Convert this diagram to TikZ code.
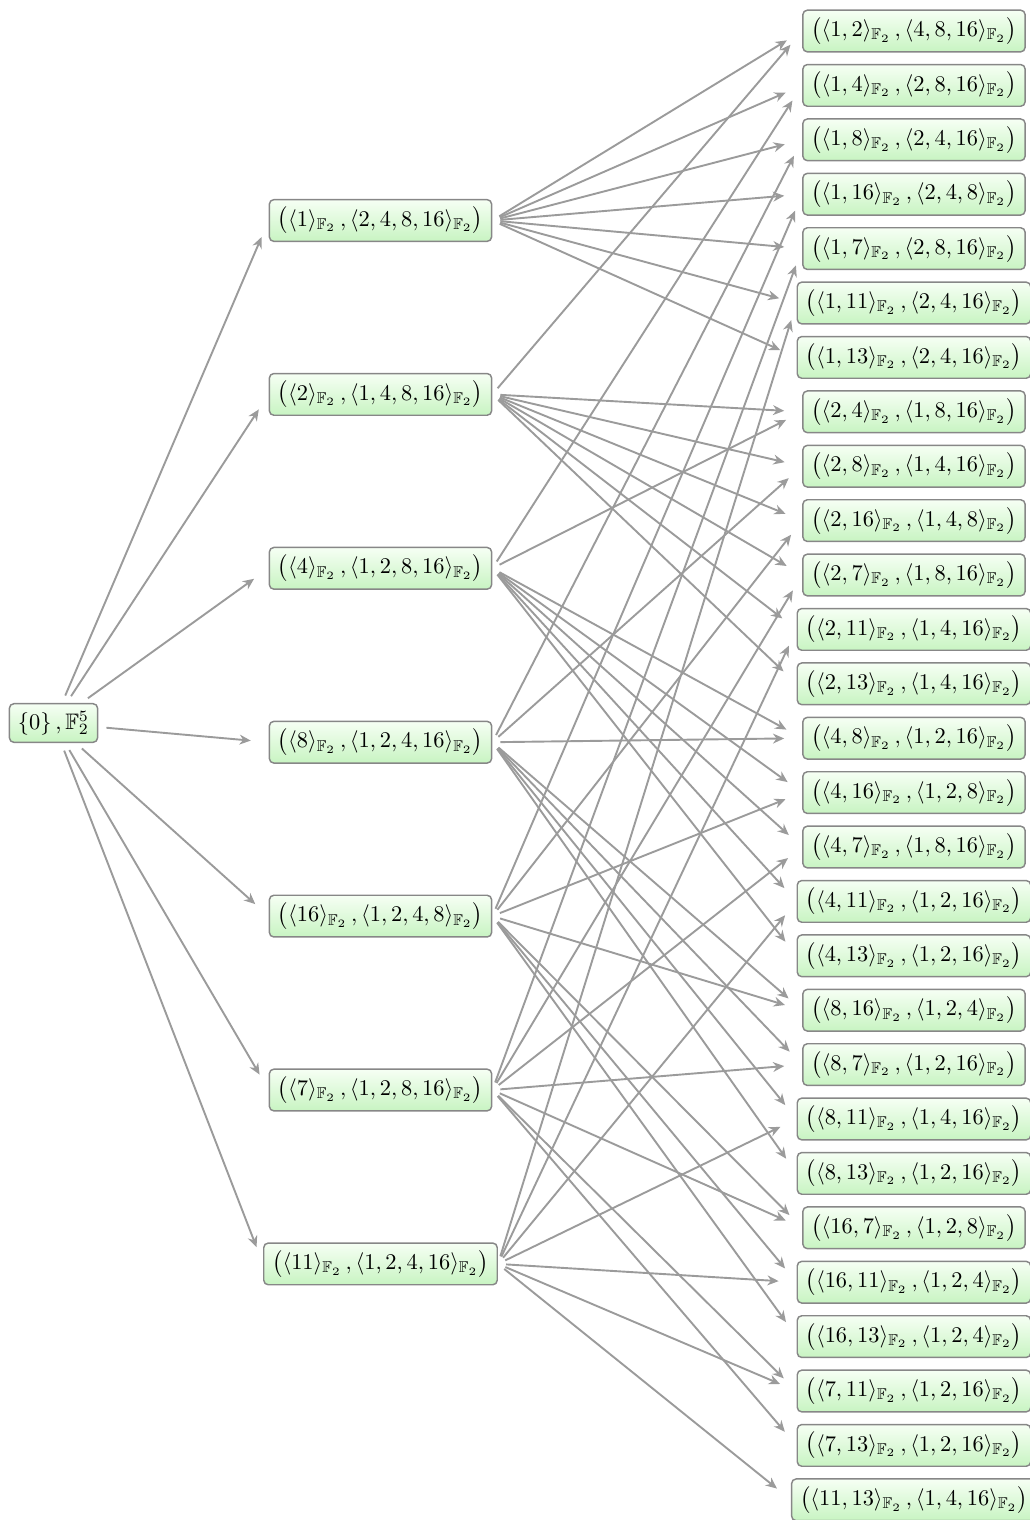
\documentclass[tikz,border=0pt]{standalone}
\usepackage{amssymb}
\usetikzlibrary{arrows.meta}

\definecolor{edgegray}{RGB}{155,155,155}
\definecolor{boxline}{RGB}{135,135,135}
\definecolor{boxtop}{RGB}{246,255,244}
\definecolor{boxbottom}{RGB}{200,244,194}

\newcommand{\gen}[1]{\langle #1\rangle_{\mathbb{F}_2}}
\newcommand{\flagpair}[2]{$\bigl(\gen{#1}\,,\gen{#2}\bigr)$}

\begin{document}
\begin{tikzpicture}[x=0.446pt,y=-0.446pt,
  space/.style={draw=boxline, line width=0.65pt, rounded corners=2pt,
    top color=boxtop, bottom color=boxbottom, inner xsep=3.8pt, inner ysep=3.3pt},
  link/.style={draw=edgegray, line width=0.85pt,
    -{Stealth[length=5pt,width=4.4pt]}, shorten <=3.6pt, shorten >=8pt}]

\useasboundingbox (0,0) rectangle (1030,1520);

% trivial subspace and whole space
\node[space] (root) at (53.5,723) {$\{0\}\,,\mathbb{F}_2^5$};

% one-dimensional level
\foreach \a/\rest [count=\k from 0] in
  {1/{2,4,8,16}, 2/{1,4,8,16}, 4/{1,2,8,16}, 8/{1,2,4,16},
   16/{1,2,4,8}, 7/{1,2,8,16}, 11/{1,2,4,16}}
  \node[space] (m\a) at (380.5, 220.5+173.9*\k) {\flagpair{\a}{\rest}};

% two-dimensional level
\foreach \a/\b/\rest [count=\i from 0] in
  {1/2/{4,8,16}, 1/4/{2,8,16}, 1/8/{2,4,16}, 1/16/{2,4,8},
   1/7/{2,8,16}, 1/11/{2,4,16}, 1/13/{2,4,16},
   2/4/{1,8,16}, 2/8/{1,4,16}, 2/16/{1,4,8}, 2/7/{1,8,16},
   2/11/{1,4,16}, 2/13/{1,4,16},
   4/8/{1,2,16}, 4/16/{1,2,8}, 4/7/{1,8,16}, 4/11/{1,2,16}, 4/13/{1,2,16},
   8/16/{1,2,4}, 8/7/{1,2,16}, 8/11/{1,4,16}, 8/13/{1,2,16},
   16/7/{1,2,8}, 16/11/{1,2,4}, 16/13/{1,2,4},
   7/11/{1,2,16}, 7/13/{1,2,16}, 11/13/{1,4,16}}
  \node[space] (r\a x\b) at (914, 31+54.4*\i) {\flagpair{\a,\b}{\rest}};

% inclusions from the bottom
\foreach \a in {1,2,4,8,16,7,11}
  \draw[link] (root) -- (m\a.west);

% inclusions into the top level
\foreach \a/\b in
  {1/2, 1/4, 1/8, 1/16, 1/7, 1/11, 1/13,
   2/4, 2/8, 2/16, 2/7, 2/11, 2/13,
   4/8, 4/16, 4/7, 4/11, 4/13,
   8/16, 8/7, 8/11, 8/13,
   16/7, 16/11, 16/13,
   7/11, 7/13, 11/13}
{
  \draw[link] (m\a.east) -- (r\a x\b.west);
  \ifnum\b=13 \else
    \draw[link] (m\b.east) -- (r\a x\b.west);
  \fi
}
\end{tikzpicture}
\end{document}
